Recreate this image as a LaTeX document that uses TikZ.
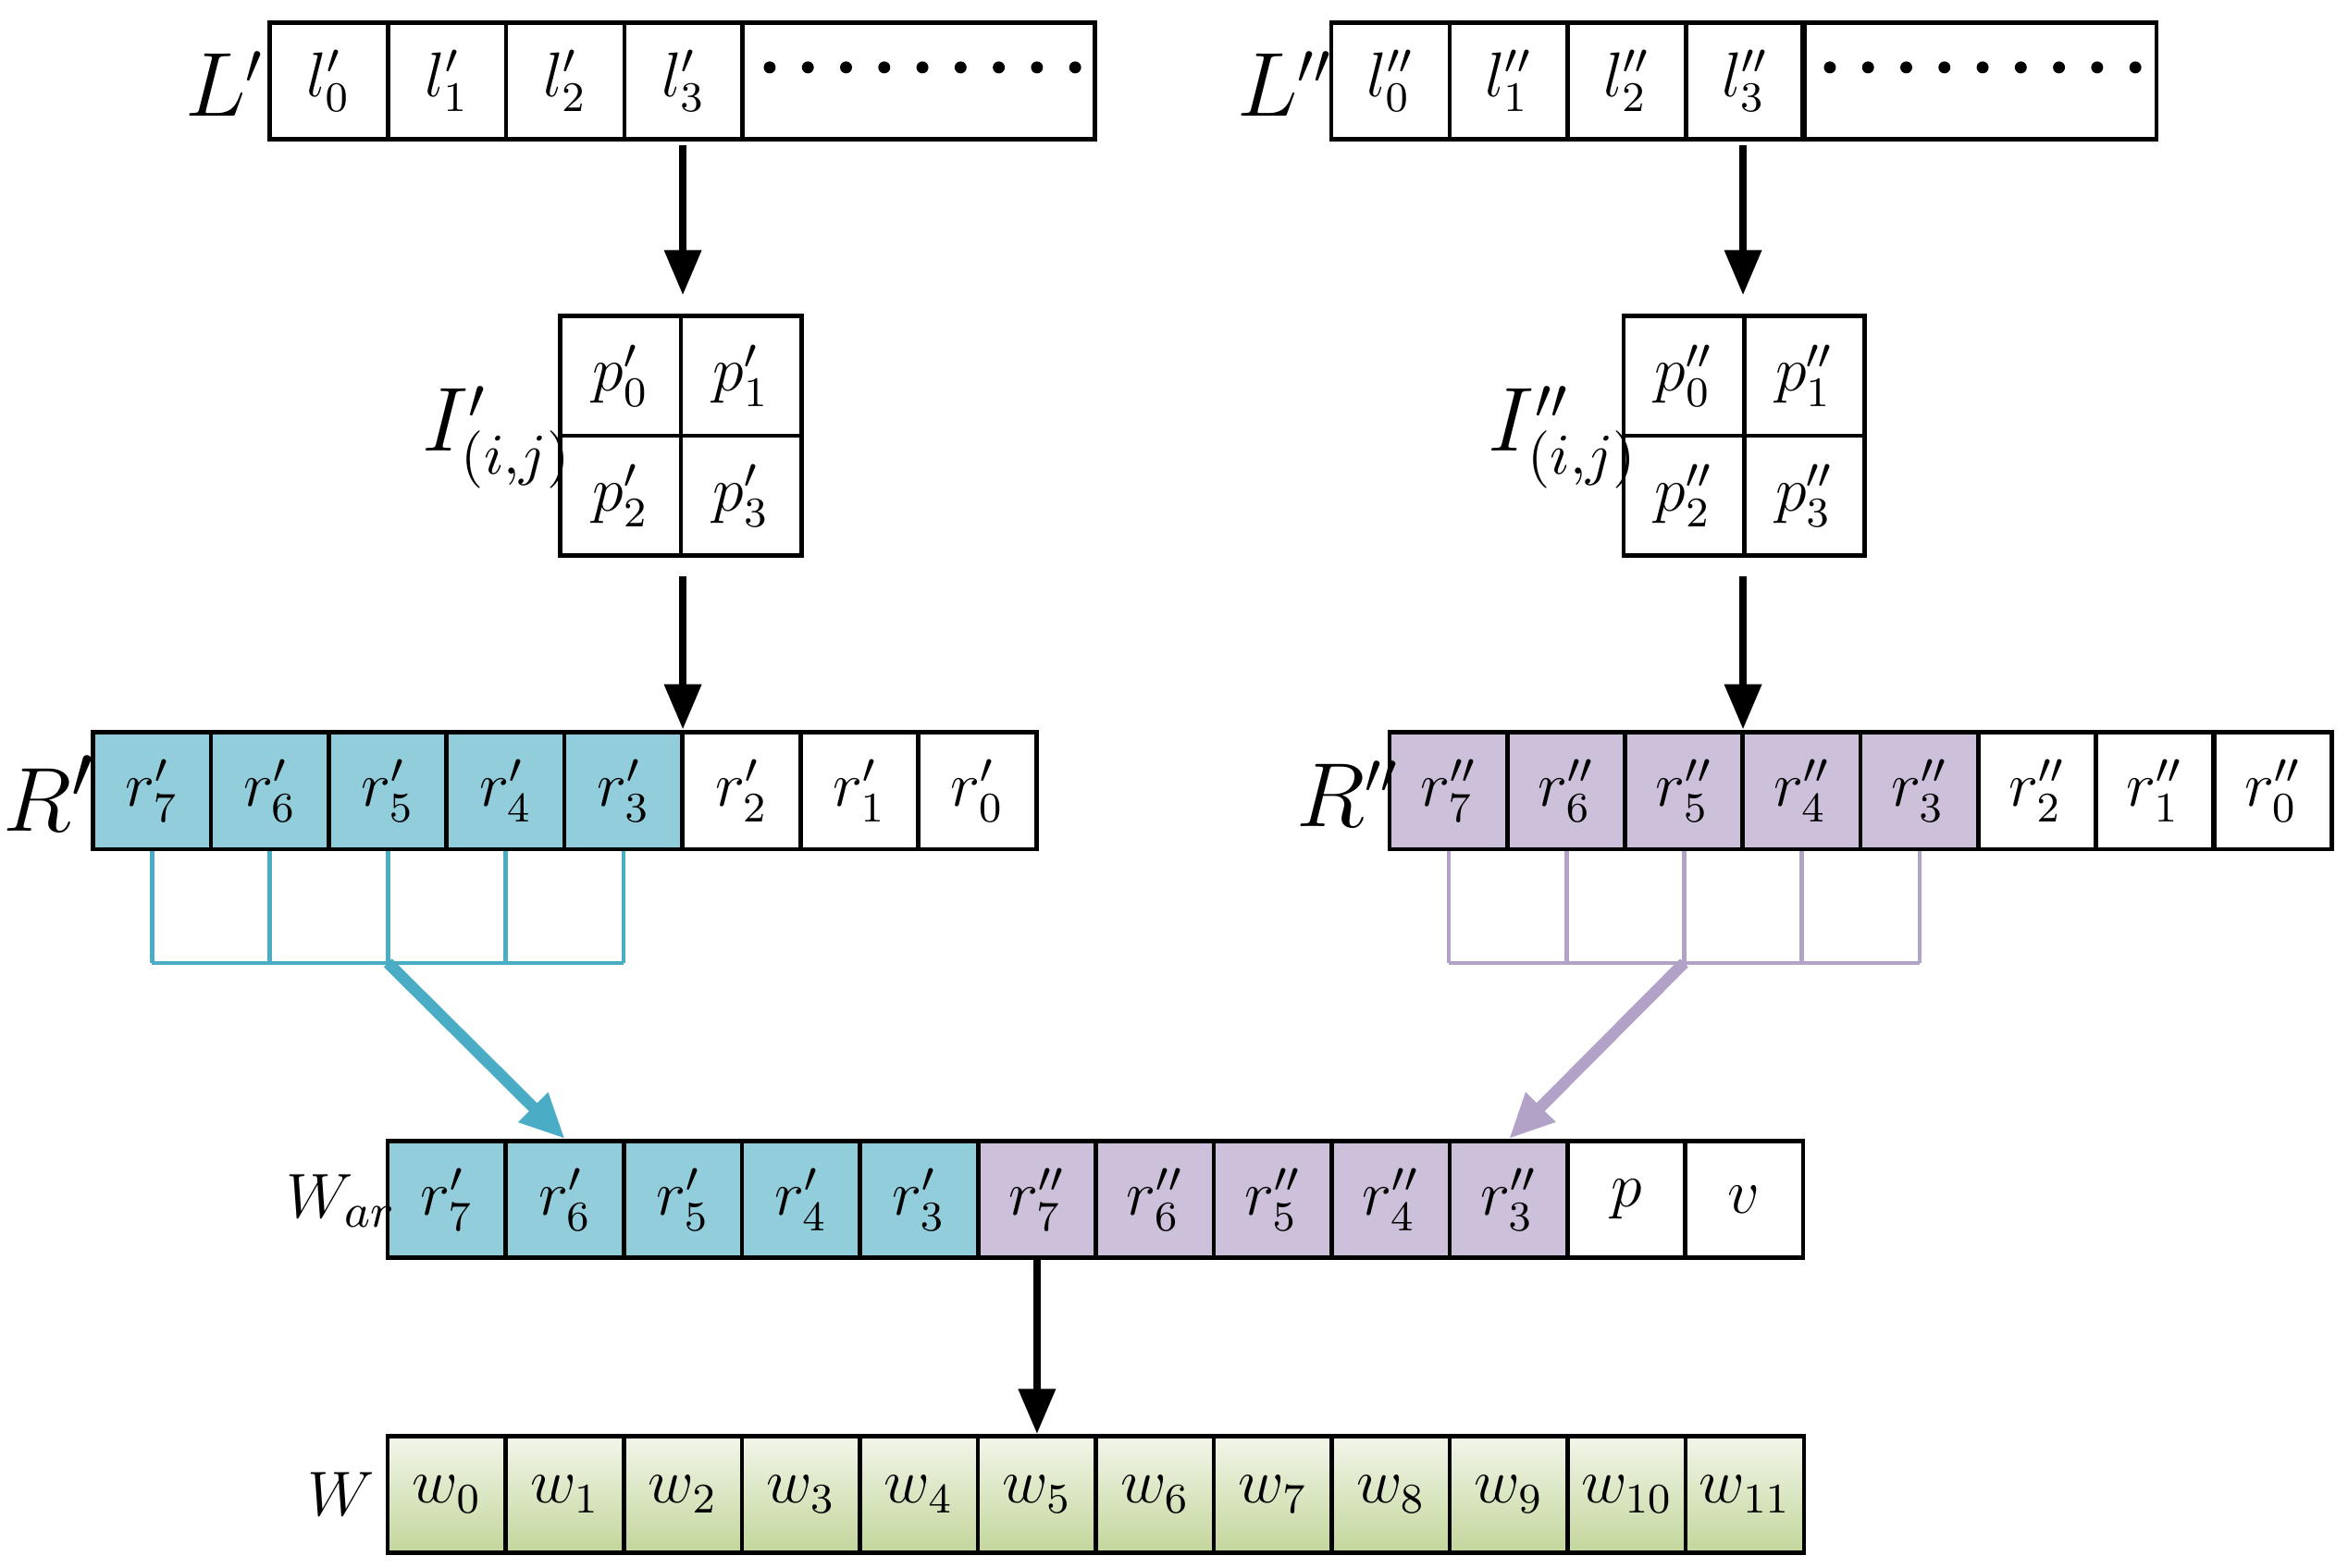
\documentclass[tikz,border=0pt]{standalone}
\usetikzlibrary{arrows.meta}
\definecolor{tealf}{HTML}{92CDDC}
\definecolor{purf}{HTML}{CCC0DA}
\definecolor{teall}{HTML}{4BACC6}
\definecolor{purl}{HTML}{B3A2C7}
\definecolor{grtop}{HTML}{F2F6EA}
\definecolor{grbot}{HTML}{C3D69B}
\begin{document}
\begin{tikzpicture}[x=0.01cm,y=-0.01cm,
  cell/.style={draw,line width=0.8pt,minimum width=0.79cm,minimum height=0.78cm,inner sep=0pt,font=\fontsize{12}{14}\selectfont},
  tc/.style={cell,fill=tealf},
  pc/.style={cell,fill=purf},
  gc/.style={cell,top color=grtop,bottom color=grbot},
  lab/.style={font=\fontsize{13}{16}\selectfont},
  big/.style={font=\fontsize{16}{19}\selectfont},
  arr/.style={line width=1.3pt,-{Triangle[length=0.3cm,width=0.24cm]}}]
\useasboundingbox (0,0) rectangle (1568,1047);
% L rows
\foreach \i/\x in {0/219.5,1/298.5,2/377.5,3/456.5}{
  \node[cell] (lp\i) at (\x,54) {$l'_{\i}$};
  \node[cell] (lpp\i) at (\x+709,54) {$l''_{\i}$};
}
\node[cell,minimum width=2.35cm] (lpd) at (613.5,54) {};
\node[cell,minimum width=2.36cm] (lppd) at (1322,54) {};
\foreach \k in {0,...,8}{
  \fill (514+\k*25.5,45) circle (4);
  \fill (1222+\k*25.5,45) circle (4);
}
\node[big] (lL) at (150,56) {$L'$};
\node[big] (lLL) at (858,56) {$L''$};
% I grids
\foreach \i/\x/\y in {0/414.5/251,1/495/251,2/414.5/331,3/495/331}{
  \node[cell,minimum width=0.805cm,minimum height=0.8cm] (ip\i) at (\x,\y) {$p'_{\i}$};
  \node[cell,minimum width=0.805cm,minimum height=0.8cm] (ipp\i) at (\x+710,\y) {$p''_{\i}$};
}
\node[big] (lI) at (332,292) {$I'_{(i,j)}$};
\node[big] (lII) at (1044,292) {$I''_{(i,j)}$};
\coordinate (a1) at (456,97);
\coordinate (a1e) at (456,197);
\coordinate (a2) at (1164,97);
\coordinate (a2e) at (1164,197);
\draw[arr] (a1) -- (a1e);
\draw[arr] (a2) -- (a2e);
\coordinate (b1) at (456,385);
\coordinate (b1e) at (456,487);
\coordinate (b2) at (1164,385);
\coordinate (b2e) at (1164,487);
\draw[arr] (b1) -- (b1e);
\draw[arr] (b2) -- (b2e);
% R rows
\foreach \n/\k in {0/7,1/6,2/5,3/4,4/3}{
  \node[tc] (rp\k) at (101.5+\n*78.75,528) {$r'_{\k}$};
  \node[pc] (rpp\k) at (967.5+\n*78.6,528) {$r''_{\k}$};
}
\foreach \n/\k in {5/2,6/1,7/0}{
  \node[cell] (rp\k) at (101.5+\n*78.75,528) {$r'_{\k}$};
  \node[cell] (rpp\k) at (967.5+\n*78.6,528) {$r''_{\k}$};
}
\node[big,font=\fontsize{19}{22}\selectfont] (lR) at (33,530) {$R'$};
\node[big] (lRR) at (900,530) {$R''$};
% brackets
\foreach \k in {7,6,5,4,3}{
  \draw[teall,line width=0.8pt] (rp\k.south) -- (rp\k.south |- 0,643);
  \draw[purl,line width=0.8pt] (rpp\k.south) -- (rpp\k.south |- 0,643);
}
\draw[teall,line width=0.8pt] (rp7.south |- 0,643) -- (rp3.south |- 0,643);
\draw[purl,line width=0.8pt] (rpp7.south |- 0,643) -- (rpp3.south |- 0,643);
\coordinate (c1) at (rp5.south |- 0,643);
\coordinate (c2) at (rpp5.south |- 0,643);
% W_ar
\foreach \n/\k in {0/7,1/6,2/5,3/4,4/3}{
  \node[tc] (wt\k) at (298.5+\n*78.8,801) {$r'_{\k}$};
  \node[pc] (wp\k) at (692.5+\n*78.8,801) {$r''_{\k}$};
}
\node[cell] (wpv) at (1086,801) {$p$};
\node[cell] (wvv) at (1164.5,801) {$v$};
\node[lab] (lWar) at (228,802) {$W_{ar}$};
\draw[teall,line width=2.2pt,-{Triangle[length=0.3cm,width=0.26cm]}] (c1) -- (wt6.north);
\draw[purl,line width=2.2pt,-{Triangle[length=0.3cm,width=0.26cm]}] (c2) -- (wp3.north);
% W
\foreach \k in {0,...,11}{
  \node[gc] (w\k) at (298.5+\k*78.8,998) {$w_{\k}$};
}
\node[lab] (lW) at (228,998) {$W$};
\draw[arr] (wp7.south) -- (w5.north);
\end{tikzpicture}
\end{document}
